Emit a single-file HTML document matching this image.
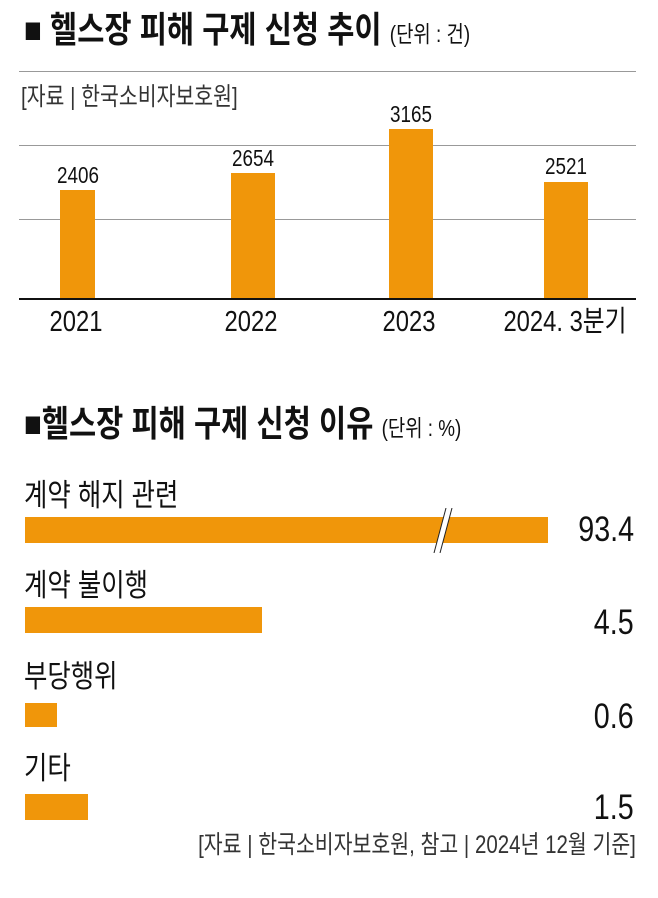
<!DOCTYPE html>
<html><head><meta charset="utf-8"><style>
body{margin:0;width:658px;height:898px;background:#fff;position:relative;overflow:hidden;font-family:"Liberation Sans","Noto Sans CJK KR",sans-serif;color:#111}
.a{position:absolute;white-space:nowrap;line-height:1}
.c{transform:scaleX(.82);transform-origin:left top}
.cc{transform:translateX(-50%) scaleX(.82)}
.r{transform:scaleX(.82);transform-origin:right top}
.bar{position:absolute;background:#f0960a}
.g{position:absolute;left:19px;width:617px;height:1px;background:#999}
</style></head><body>
<div class="a c" style="left:24px;top:12px;font-size:36px;font-weight:bold">■ 헬스장 피해 구제 신청 추이 <span style="font-size:23px;font-weight:normal">(단위 : 건)</span></div>
<div class="g" style="top:71px"></div>
<div class="a c" style="left:21px;top:85px;font-size:25px;color:#333">[자료 | 한국소비자보호원]</div>
<div class="g" style="top:145px"></div>
<div class="g" style="top:219px"></div>
<div class="a" style="left:19px;top:298px;width:617px;height:2px;background:#111"></div>
<div class="bar" style="left:60px;top:190px;width:35px;height:108px"></div>
<div class="bar" style="left:231px;top:173px;width:44px;height:125px"></div>
<div class="bar" style="left:389px;top:129px;width:44px;height:169px"></div>
<div class="bar" style="left:544px;top:182px;width:44px;height:116px"></div>
<div class="a cc" style="left:78px;top:164px;font-size:23px">2406</div>
<div class="a cc" style="left:253px;top:147px;font-size:23px">2654</div>
<div class="a cc" style="left:411px;top:103px;font-size:23px">3165</div>
<div class="a cc" style="left:566px;top:155px;font-size:23px">2521</div>
<div class="a cc" style="left:76px;top:308px;font-size:29px">2021</div>
<div class="a cc" style="left:251px;top:308px;font-size:29px">2022</div>
<div class="a cc" style="left:409px;top:308px;font-size:29px">2023</div>
<div class="a cc" style="left:565px;top:308px;font-size:29px">2024. 3분기</div>

<div class="a c" style="left:24px;top:406px;font-size:36px;font-weight:bold">■헬스장 피해 구제 신청 이유 <span style="font-size:23px;font-weight:normal">(단위 : %)</span></div>
<div class="a c" style="left:24px;top:480px;font-size:31px">계약 해지 관련</div>
<div class="bar" style="left:25px;top:517px;width:523px;height:26px"></div>
<svg class="a" style="left:430px;top:508px" width="35" height="45"><polygon points="16,0 22,0 10,45 4,45" fill="#fff"/><line x1="16" y1="0" x2="4" y2="45" stroke="#222" stroke-width="1"/><line x1="22" y1="0" x2="10" y2="45" stroke="#222" stroke-width="1"/></svg>
<div class="a r" style="right:24px;top:512px;font-size:35px">93.4</div>
<div class="a c" style="left:24px;top:570px;font-size:31px">계약 불이행</div>
<div class="bar" style="left:25px;top:607px;width:237px;height:26px"></div>
<div class="a r" style="right:24px;top:605px;font-size:35px">4.5</div>
<div class="a c" style="left:24px;top:661px;font-size:31px">부당행위</div>
<div class="bar" style="left:25px;top:703px;width:32px;height:24px"></div>
<div class="a r" style="right:24px;top:699px;font-size:35px">0.6</div>
<div class="a c" style="left:24px;top:753px;font-size:31px">기타</div>
<div class="bar" style="left:25px;top:794px;width:63px;height:26px"></div>
<div class="a r" style="right:24px;top:790px;font-size:35px">1.5</div>
<div class="a r" style="right:22px;top:833px;font-size:25px;color:#333">[자료 | 한국소비자보호원, 참고 | 2024년 12월 기준]</div>
</body></html>
